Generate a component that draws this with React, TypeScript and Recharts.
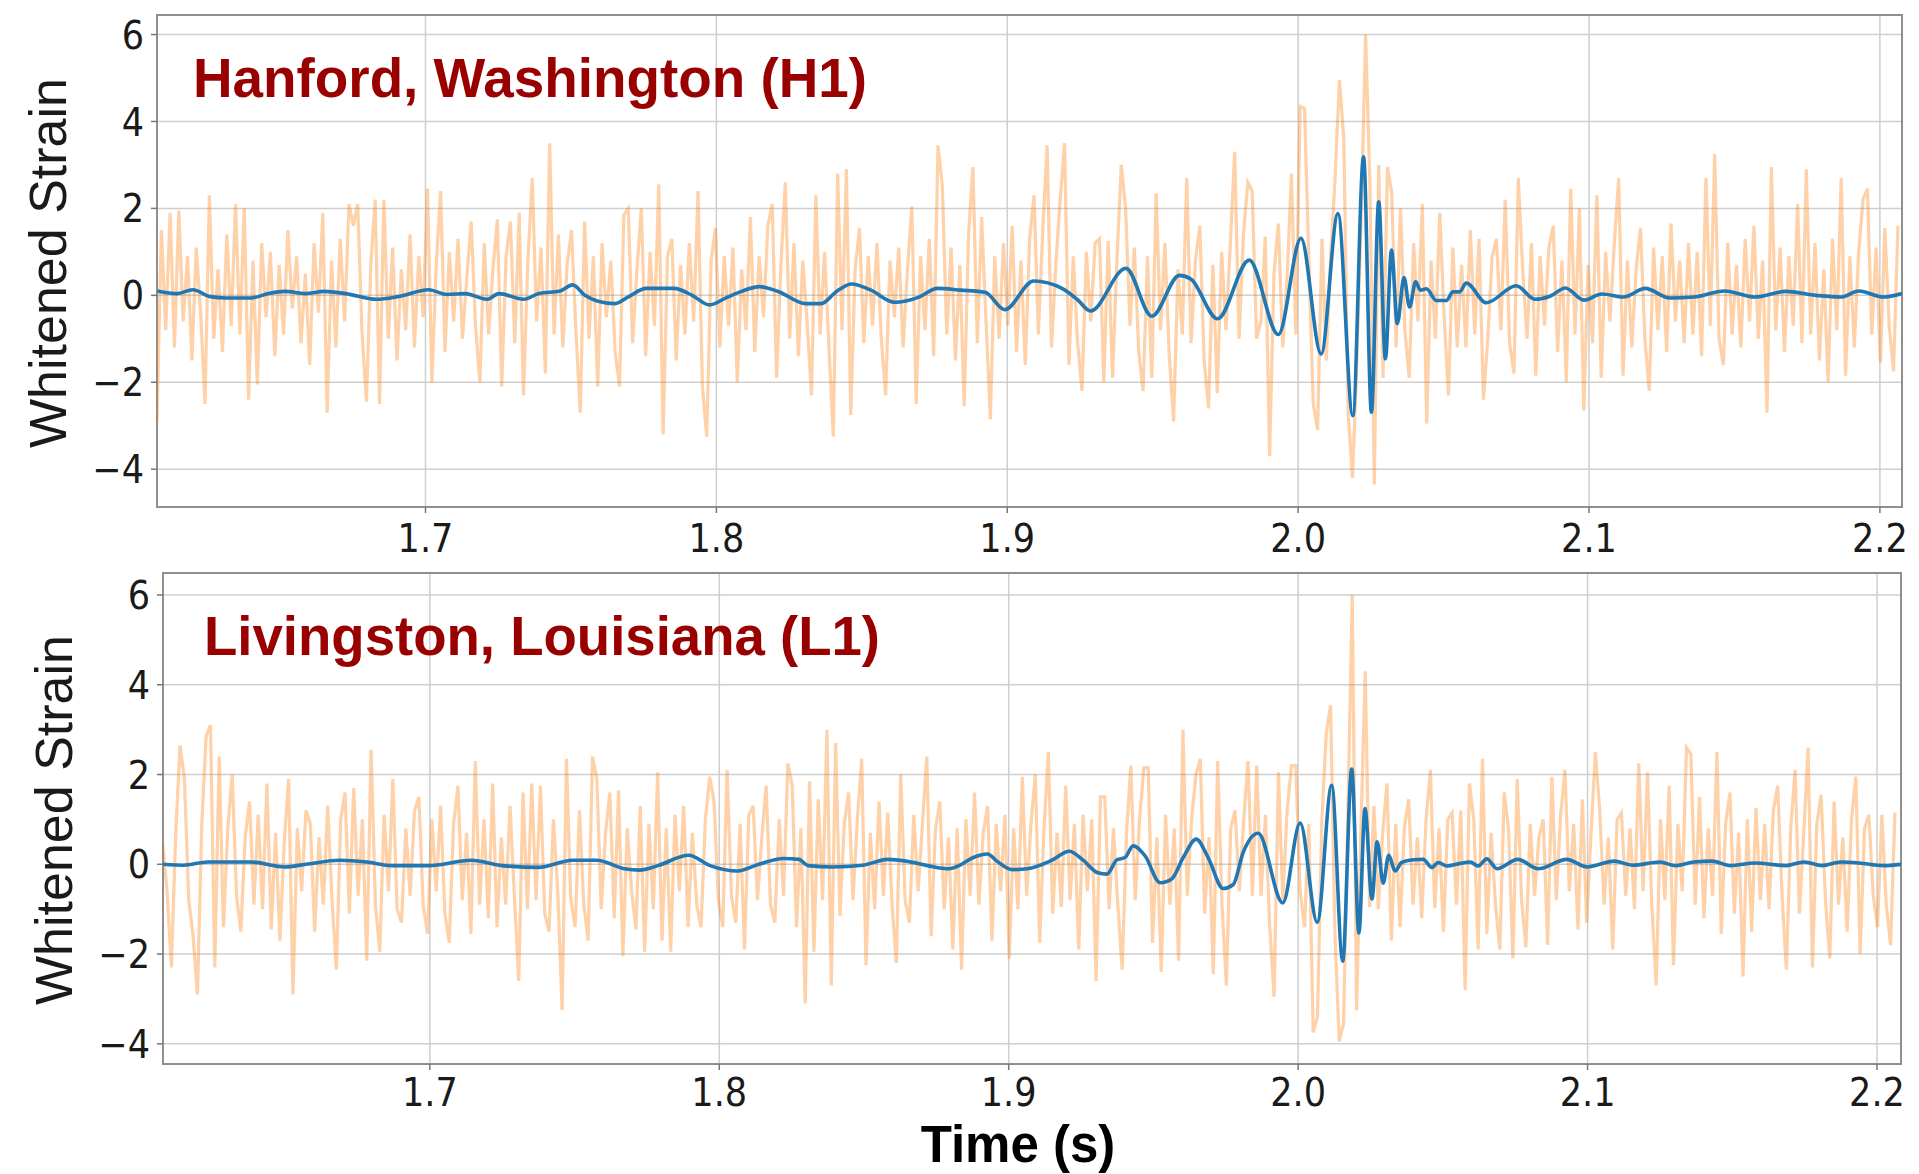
import React from "react";
import {
  LineChart,
  Line,
  XAxis,
  YAxis,
  CartesianGrid,
  ReferenceArea,
} from "recharts";

// sampling of the whitened strain traces (seconds)
const NOISE_T0 = 1.6077;
const NOISE_DT = 0.0015;

const X_TICKS = [1.7, 1.8, 1.9, 2.0, 2.1, 2.2];
const Y_TICKS = [-4, -2, 0, 2, 4, 6];

// H1 whitened strain (orange)
const h1Noise = [
  -2.9, 1.5, -0.8, 1.9, -1.2, 1.95, -0.6, 0.9, -1.5, 1.1,
  -0.4, -2.5, 2.3, -1.0, 0.6, -1.3, 1.4, -0.7, 2.1, -0.9,
  2.0, -2.4, 0.8, -2.05, 1.2, -0.5, 1.0, -1.4, 0.7, -0.9,
  1.5, -0.3, 0.9, -1.1, 0.5, -1.6, 1.2, -0.4, 1.9, -2.7,
  0.8, -1.2, 1.3, -0.6, 2.1, 1.6, 2.1, -0.9, -2.45, 0.7,
  2.2, -2.5, 2.2, -1.0, 1.1, -1.5, 0.6, -0.8, 1.4, -1.2,
  0.9, -0.5, 2.45, -2.0, 0.7, 2.4, -1.3, 1.0, -0.6, 1.3,
  -1.0, 0.4, 1.7, -0.7, -2.0, 1.2, -0.9, 0.6, 1.75, -2.1,
  0.9, 1.7, -1.1, 1.9, -2.3, 0.8, 2.7, -0.6, 1.1, -1.8,
  3.5, -0.9, 1.4, -1.2, 0.7, 1.5, -0.8, -2.7, 1.7, -1.0,
  0.9, -2.1, 1.2, -0.5, 0.8, -1.3, -2.1, 1.85, 2.0, -1.1,
  0.6, 2.0, -1.4, 1.0, -0.7, 2.55, -3.2, 0.9, 1.3, -1.5,
  0.7, -0.9, 1.2, -0.6, 2.4, -2.1, -3.25, 0.8, 1.55, -1.2,
  0.9, -0.7, 1.1, -2.0, 0.6, -0.8, 1.8, -1.3, 0.9, -0.5,
  1.6, 2.1, -1.9, 0.7, 2.6, -1.0, 1.2, -1.4, 0.8, -0.6,
  -2.3, 2.3, -0.9, 1.0, -1.2, -3.25, 2.8, -0.8, 2.9, -2.75,
  0.6, 1.55, -1.1, 0.9, -0.7, 1.2, -1.0, -2.3, 0.8, -0.5,
  1.1, -1.2, 0.6, 2.05, -2.5, 0.9, -0.8, 1.3, -1.4, 3.45,
  2.5, -0.9, 1.1, -1.5, 0.7, -2.55, 1.4, 2.95, -1.1, 1.8,
  -0.6, -2.85, 0.9, -1.0, 1.2, -0.7, 1.6, -1.3, 0.8, -1.6,
  1.3, 2.3, -0.9, 1.5, 3.45, -1.2, 0.7, 2.2, 3.5, -1.6,
  0.9, -1.1, -2.2, 1.0, -0.6, 1.2, 1.3, -2.0, 1.25, -1.9,
  0.8, 3.0, 2.0, -0.7, 1.1, -1.3, -2.2, 0.9, -1.9, 2.35,
  -0.8, 1.2, -1.4, -2.9, 0.6, -0.9, 2.7, -1.1, 0.8, 1.6,
  -1.5, -2.6, 0.7, -2.25, 1.0, -0.8, 1.2, 3.3, -1.0, 1.4,
  2.6, 2.4, -1.0, -0.6, 1.35, -3.7, 0.5, 1.65, -1.2, 0.4,
  2.8, -0.9, 4.35, 4.3, 0.8, -2.5, -3.1, 1.3, -1.5, 0.9,
  2.7, 4.95, 3.6, -2.7, -4.2, -1.5, 1.8, 6.0, 2.5, -4.35,
  3.0, -1.9, 2.95, 2.35, -1.2, 2.0, -0.8, -1.9, 1.2, -0.6,
  2.1, -2.95, 0.8, -1.0, 1.9, -0.5, -2.3, 1.1, -1.2, 0.7,
  -1.2, 1.5, -0.9, 1.3, -2.4, -1.0, 0.9, 1.3, -0.8, 2.2,
  -1.1, -1.8, 2.7, 0.6, -1.0, 1.2, -1.85, 0.9, -0.7, 1.1,
  1.6, -1.3, 0.8, -2.0, 2.45, -0.9, 2.0, -2.65, 0.7, -1.1,
  2.3, -1.9, 1.0, -0.6, 1.2, 2.7, -1.85, 0.8, -1.2, 0.6,
  1.55, -1.0, -2.2, 1.1, -0.8, 0.9, -1.3, 1.65, -0.6, 0.8,
  -1.1, 1.2, -0.9, 1.0, -1.4, 2.7, -0.7, 3.25, -1.0, -1.6,
  1.2, -0.9, 0.7, -1.2, 1.3, -0.6, 1.6, -1.0, 0.8, -2.7,
  2.95, -0.8, 1.1, -1.3, 0.9, -0.7, 2.1, -1.1, 2.9, -0.9,
  1.2, -1.5, 0.6, -2.0, 1.3, -0.8, 2.7, -1.85, 0.9, -1.2,
  1.0, 2.2, 2.45, -0.9, 1.1, -1.55, 1.55, -0.7, -1.75, 1.6,
];

// L1 whitened strain (orange)
const l1Noise = [
  0.45, -0.6, -2.3, 0.7, 2.65, 1.9, -0.8, -1.6, -2.9, 0.9,
  2.85, 3.1, -2.3, 2.4, -1.4, 0.8, 2.0, -0.7, -1.5, 0.6,
  1.4, -0.9, 1.1, -1.0, 1.8, -1.45, 0.7, -1.7, 0.5, 1.9,
  -2.9, 0.8, -0.6, 1.2, 0.9, -1.5, 0.6, -0.9, 1.3, -0.8,
  -2.35, 1.0, 1.6, -1.1, 1.7, -0.7, 1.0, -2.15, 2.55, -0.9,
  -1.95, 1.1, -0.6, 1.9, -1.0, -1.3, 0.8, -0.7, 1.2, 1.5,
  -0.9, -1.55, 1.0, -0.6, 1.3, -1.1, -1.75, 0.9, 1.75, -0.8,
  0.7, -1.55, 2.3, -0.9, 1.0, -1.2, 1.8, -1.4, 0.6, -0.9,
  1.3, -0.7, -2.6, 1.6, -1.0, 1.8, -0.8, 1.75, -1.1, -1.5,
  1.0, -0.6, -3.25, 2.35, -0.8, -1.4, 1.2, -0.9, -1.7, 2.4,
  1.9, -1.0, 0.7, 1.6, -1.2, 1.65, -2.05, 0.8, -0.6, -1.45,
  1.3, -1.95, 0.9, -1.0, 2.05, -1.7, 0.8, -1.95, 1.1, -0.6,
  1.3, -1.4, 0.7, -0.9, -1.4, 1.0, 1.95, 1.4, -0.8, -1.4,
  2.1, -0.7, -1.3, 0.9, -1.9, 1.1, 1.3, -0.8, 0.6, 1.75,
  -0.9, -1.3, 1.0, -0.7, 2.25, 1.75, -1.4, 0.8, -3.1, 1.85,
  -1.95, 1.45, -0.8, 3.0, -2.7, 2.7, -1.15, 0.9, 1.6, -0.8,
  1.0, 2.35, -2.25, 0.7, -1.0, 1.4, -0.7, 1.15, -0.9, -2.2,
  2.0, -0.8, -1.3, 1.1, -0.6, 0.9, 2.4, -1.6, 0.8, 1.4,
  -1.0, 0.6, -1.9, 0.8, -2.35, 1.0, -0.7, 1.6, -0.9, 0.7,
  1.3, -1.7, 0.9, -0.6, 1.1, -2.1, 0.8, -1.0, 1.95, -0.7,
  0.9, 2.0, -1.75, 0.8, 2.5, -1.1, 0.7, -0.95, 1.75, -0.8,
  0.9, -1.9, 1.1, -0.6, 1.0, -2.6, 1.5, 1.5, -1.0, 0.8,
  -0.9, -2.35, 0.7, 2.2, -0.8, 1.0, 2.15, 2.15, -1.75, 0.6,
  -2.4, 1.1, -0.9, 0.8, -2.15, 3.0, -0.7, 1.0, 2.0, 2.35,
  -1.1, 0.6, -2.45, 2.3, -0.9, -2.7, 0.8, 1.2, -0.6, 1.0,
  2.3, -0.7, 2.2, -0.7, 1.1, -1.4, -2.95, 2.05, -0.8, 1.2,
  2.2, 2.2, -0.6, -1.4, 0.9, -3.75, -3.4, 1.0, 2.9, 3.55,
  -1.5, -3.95, -3.55, 1.2, 6.0, -3.25, 0.8, 4.3, -0.95, 1.3,
  -1.0, 0.7, 1.8, -1.7, 0.9, -1.4, 0.8, 1.45, -0.9, 0.6,
  -1.2, 1.0, 2.1, -0.97, 0.8, -1.5, 1.0, 1.15, -0.9, 1.2,
  -2.8, 1.8, 1.0, -1.9, 2.35, -1.55, 0.7, -0.9, -1.9, 1.6,
  0.8, -2.1, 1.9, -0.8, -1.85, 0.9, -0.7, 0.6, 1.0, -1.8,
  1.95, -0.8, 1.1, 2.1, -0.6, 0.9, -1.45, 1.45, -1.3, 0.7,
  2.5, 1.2, -0.9, 0.6, -1.9, 1.0, 1.15, -0.7, 0.8, -1.0,
  2.25, -0.6, 2.05, -0.9, -2.7, 1.0, -0.8, 1.75, -2.25, 0.9,
  -0.6, 2.6, 2.45, -0.9, 1.5, -1.2, 0.8, -0.7, 2.5, -1.55,
  0.9, 1.6, -1.1, 0.7, -2.5, 1.0, -1.5, 1.25, -0.8, 0.9,
  -1.0, 1.2, 1.75, -0.7, -2.35, 0.8, 2.1, -1.1, 0.7, 2.6,
  -2.3, 0.9, 1.55, -0.8, -2.1, 1.4, -0.9, 0.6, -1.5, 1.0,
  1.95, -2.0, 0.8, 1.1, -0.7, -1.4, 1.1, -0.9, -1.8, 1.15,
];

// H1 template (blue), read at turning points
const h1TemplateT = [
  1.6079, 1.6146, 1.62, 1.626, 1.6315, 1.64, 1.646, 1.6516, 1.6588, 1.6652,
  1.6726, 1.6831, 1.6905, 1.7011, 1.7074, 1.7136, 1.7211, 1.7253, 1.7337, 1.739,
  1.7463, 1.7506, 1.7548, 1.759, 1.7652, 1.7696, 1.7759, 1.7854, 1.7917, 1.7976,
  1.8033, 1.8086, 1.8148, 1.8212, 1.8307, 1.836, 1.8413, 1.8465, 1.8528, 1.8613,
  1.8697, 1.876, 1.884, 1.8924, 1.8991, 1.9091, 1.9188, 1.924, 1.9286, 1.9408,
  1.9497, 1.9592, 1.9632, 1.9723, 1.9832, 1.9932, 2.001, 2.0079, 2.0137, 2.0188,
  2.0225, 2.0252, 2.0277, 2.03, 2.0321, 2.0341, 2.0364, 2.0383, 2.0404, 2.042,
  2.0441, 2.0475, 2.051, 2.0532, 2.0555, 2.0578, 2.0647, 2.075, 2.0814, 2.0866,
  2.0919, 2.0982, 2.1045, 2.1119, 2.1193, 2.1277, 2.1361, 2.1466, 2.157, 2.1676,
  2.178, 2.1865, 2.1928, 2.2012, 2.2076,
];
const h1TemplateV = [
  0.1, 0.04, 0.13, -0.03, -0.06, -0.06, 0.04, 0.09, 0.04, 0.09,
  0.04, -0.09, -0.03, 0.13, 0.02, 0.04, -0.09, 0.04, -0.09, 0.04,
  0.1, 0.24, 0.0, -0.13, -0.19, -0.04, 0.16, 0.16, 0.0, -0.22,
  -0.06, 0.09, 0.2, 0.09, -0.19, -0.19, 0.09, 0.26, 0.13, -0.16,
  -0.04, 0.16, 0.12, 0.07, -0.33, 0.33, 0.16, -0.09, -0.36, 0.62,
  -0.48, 0.46, 0.37, -0.54, 0.81, -0.9, 1.31, -1.35, 1.88, -2.77,
  3.19, -2.69, 2.15, -1.46, 1.04, -0.65, 0.41, -0.27, 0.31, 0.12,
  0.15, -0.12, -0.12, 0.08, 0.08, 0.28, -0.17, 0.22, -0.09, -0.02,
  0.17, -0.11, 0.03, -0.04, 0.16, -0.06, -0.04, 0.1, -0.04, 0.09,
  0.0, -0.04, 0.1, -0.04, 0.04,
];

// L1 template (blue)
const l1TemplateT = [
  1.6078, 1.6149, 1.6233, 1.6382, 1.6498, 1.6572, 1.6689, 1.6782, 1.6869, 1.6996,
  1.7143, 1.7249, 1.7376, 1.7493, 1.7577, 1.7672, 1.7725, 1.7788, 1.7894, 1.7968,
  1.8063, 1.8137, 1.8222, 1.8275, 1.8307, 1.8391, 1.8496, 1.8582, 1.8645, 1.872,
  1.8793, 1.8832, 1.8874, 1.8927, 1.8959, 1.9012, 1.9064, 1.9149, 1.9209, 1.9254,
  1.9308, 1.9339, 1.9374, 1.9402, 1.943, 1.9471, 1.9523, 1.9564, 1.9603, 1.9648,
  1.9689, 1.9741, 1.9776, 1.981, 1.9862, 1.9947, 2.0007, 2.0066, 2.0116, 2.0154,
  2.0185, 2.021, 2.0231, 2.0255, 2.0273, 2.0294, 2.0313, 2.0335, 2.0358, 2.0397,
  2.0432, 2.0462, 2.0484, 2.0514, 2.056, 2.0594, 2.0622, 2.0652, 2.0687, 2.0759,
  2.0829, 2.0928, 2.0998, 2.1092, 2.1156, 2.125, 2.1304, 2.1368, 2.143, 2.1494,
  2.1579, 2.1685, 2.1748, 2.181, 2.1875, 2.1938, 2.2023, 2.2086,
];
const l1TemplateV = [
  0.0, -0.02, 0.05, 0.05, -0.06, 0.0, 0.09, 0.05, -0.03, -0.03,
  0.09, -0.03, -0.07, 0.09, 0.09, -0.1, -0.13, -0.03, 0.2, -0.03,
  -0.15, 0.0, 0.13, 0.11, -0.03, -0.06, -0.02, 0.11, 0.07, -0.03,
  -0.1, -0.02, 0.14, 0.23, 0.07, -0.12, -0.1, 0.09, 0.29, 0.11,
  -0.19, -0.22, 0.1, 0.15, 0.41, 0.19, -0.41, -0.32, 0.15, 0.56,
  0.15, -0.54, -0.45, 0.26, 0.69, -0.86, 0.92, -1.29, 1.76, -2.16,
  2.12, -1.53, 1.24, -0.77, 0.5, -0.42, 0.2, -0.15, 0.04, 0.1,
  0.11, -0.07, 0.04, -0.04, 0.02, 0.05, -0.04, 0.12, -0.1, 0.11,
  -0.1, 0.11, -0.06, 0.07, -0.02, 0.05, -0.03, 0.05, 0.07, -0.03,
  0.03, -0.03, 0.05, -0.03, 0.05, 0.03, -0.03, 0.0,
];

const toNoise = (vals: number[]) =>
  vals.map((v, i) => ({ t: NOISE_T0 + i * NOISE_DT, v }));
const toTemplate = (ts: number[], vs: number[]) =>
  ts.map((t, i) => ({ t, v: vs[i] }));

const TICK_FONT = "DejaVu Sans";
const TICK_SIZE = 39;

const fmtY = (v: number) => (v < 0 ? "\u2212" + Math.abs(v) : String(v));

function XTick({ x, payload, base }: any) {
  return (
    <g transform={`translate(${x},${base}) scale(0.9,1)`}>
      <text
        x={0}
        y={0}
        textAnchor="middle"
        fontFamily={TICK_FONT}
        fontSize={TICK_SIZE}
        fill="#1a1a1a"
      >
        {Number(payload.value).toFixed(1)}
      </text>
    </g>
  );
}

function YTick({ y, payload, right }: any) {
  return (
    <g transform={`translate(${right},${y + TICK_SIZE * 0.36}) scale(0.9,1)`}>
      <text
        x={0}
        y={0}
        textAnchor="end"
        fontFamily={TICK_FONT}
        fontSize={TICK_SIZE}
        fill="#1a1a1a"
      >
        {fmtY(payload.value)}
      </text>
    </g>
  );
}

interface PanelProps {
  top: number;
  noise: number[];
  templateT: number[];
  templateV: number[];
  plotLeft: number;
  rightMargin: number;
  xDomain: [number, number];
  yDomain: [number, number];
  xAxisHeight: number;
  tickBase: number;
}

function Panel(p: PanelProps) {
  const noiseData = toNoise(p.noise);
  const templateData = toTemplate(p.templateT, p.templateV);
  return (
    <div style={{ position: "absolute", left: 0, top: p.top }}>
      <LineChart
        width={1919}
        height={560}
        margin={{ top: 15, right: p.rightMargin, bottom: 0, left: 0 }}
      >
        <CartesianGrid stroke="#cfcfcf" strokeWidth={1.5} />
        <XAxis
          dataKey="t"
          type="number"
          domain={p.xDomain}
          allowDataOverflow
          ticks={X_TICKS}
          height={p.xAxisHeight}
          axisLine={false}
          tickLine={{ stroke: "#777", strokeWidth: 1.5 }}
          tickSize={6}
          tick={(props: any) => <XTick {...props} base={p.tickBase} />}
        />
        <YAxis
          type="number"
          domain={p.yDomain}
          allowDataOverflow
          ticks={Y_TICKS}
          width={p.plotLeft}
          axisLine={false}
          tickLine={{ stroke: "#777", strokeWidth: 1.5 }}
          tickSize={6}
          tick={(props: any) => <YTick {...props} right={p.plotLeft - 13} />}
        />
        <Line
          data={noiseData}
          dataKey="v"
          type="linear"
          stroke="#ff7f0e"
          strokeOpacity={0.36}
          strokeWidth={3.2}
          strokeLinejoin="miter"
          dot={false}
          activeDot={false}
          isAnimationActive={false}
        />
        <Line
          data={templateData}
          dataKey="v"
          type="monotone"
          stroke="#1f77b4"
          strokeWidth={3.6}
          dot={false}
          activeDot={false}
          isAnimationActive={false}
        />
        <ReferenceArea
          x1={p.xDomain[0]}
          x2={p.xDomain[1]}
          y1={p.yDomain[0]}
          y2={p.yDomain[1]}
          fill="none"
          stroke="#8f8f8f"
          strokeWidth={2}
          ifOverflow="visible"
        />
      </LineChart>
    </div>
  );
}

const TITLE_COLOR = "#990000";
const LABEL_FONT = "Liberation Sans, Arial, sans-serif";

export default function App() {
  return (
    <div
      style={{
        position: "absolute",
        left: 0,
        top: 0,
        width: 1919,
        height: 1174,
        background: "#fff",
        overflow: "hidden",
      }}
    >
      <Panel
        top={0}
        noise={h1Noise}
        templateT={h1TemplateT}
        templateV={h1TemplateV}
        plotLeft={157}
        rightMargin={17}
        xDomain={[1.6077, 2.2076]}
        yDomain={[-4.87, 6.45]}
        xAxisHeight={53}
        tickBase={552}
      />
      <Panel
        top={558}
        noise={l1Noise}
        templateT={l1TemplateT}
        templateV={l1TemplateV}
        plotLeft={163}
        rightMargin={18}
        xDomain={[1.6078, 2.2083]}
        yDomain={[-4.45, 6.49]}
        xAxisHeight={54}
        tickBase={548}
      />
      <svg
        width={1919}
        height={1174}
        style={{ position: "absolute", left: 0, top: 0, pointerEvents: "none" }}
      >
        <text
          x={193}
          y={97}
          fontFamily={LABEL_FONT}
          fontWeight="bold"
          fontSize={55}
          fill={TITLE_COLOR}
          textLength={674}
          lengthAdjust="spacingAndGlyphs"
        >
          Hanford, Washington (H1)
        </text>
        <text
          x={204}
          y={655}
          fontFamily={LABEL_FONT}
          fontWeight="bold"
          fontSize={55}
          fill={TITLE_COLOR}
          textLength={676}
          lengthAdjust="spacingAndGlyphs"
        >
          Livingston, Louisiana (L1)
        </text>
        <text
          transform="translate(66,263) rotate(-90)"
          textAnchor="middle"
          fontFamily={LABEL_FONT}
          fontSize={52}
          fill="#1a1a1a"
        >
          Whitened Strain
        </text>
        <text
          transform="translate(72,820) rotate(-90)"
          textAnchor="middle"
          fontFamily={LABEL_FONT}
          fontSize={52}
          fill="#1a1a1a"
        >
          Whitened Strain
        </text>
        <text
          x={1018}
          y={1162}
          textAnchor="middle"
          fontFamily={LABEL_FONT}
          fontWeight="bold"
          fontSize={51}
          fill="#000"
        >
          Time (s)
        </text>
      </svg>
    </div>
  );
}
